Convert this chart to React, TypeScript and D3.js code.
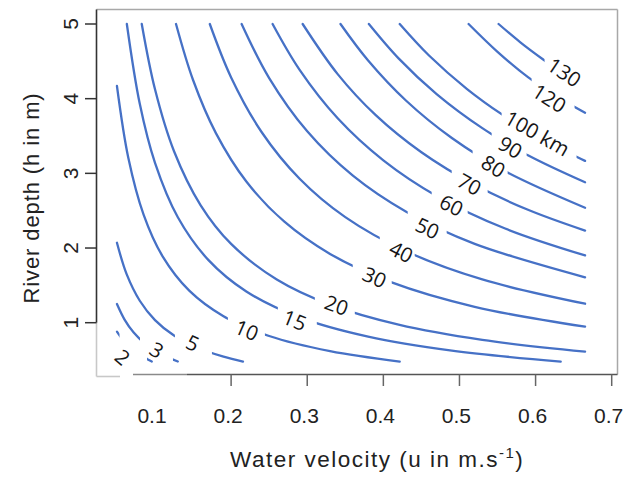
import React from "react";
import * as d3 from "d3";

// contour levels and their printed labels
const levels = [2, 3, 5, 10, 15, 20, 30, 40, 50, 60, 70, 80, 90, 100, 120, 130];
const levelLabels = ["2", "3", "5", "10", "15", "20", "30", "40", "50", "60", "70", "80", "90", "100 km", "120", "130"];

// contour lines: [u (m/s), h (m)]
const line2 = [[0.05, 0.88], [0.058, 0.767], [0.067, 0.672], [0.078, 0.583], [0.09, 0.511], [0.0958, 0.48]];
const line3 = [[0.05, 1.25], [0.06, 1.042], [0.072, 0.868], [0.087, 0.718], [0.104, 0.601], [0.118, 0.53], [0.13, 0.481]];
const line5 = [[0.05, 2.07], [0.063, 1.643], [0.08, 1.294], [0.1, 1.035], [0.125, 0.828], [0.155, 0.668], [0.19, 0.545], [0.2156, 0.48]];
const line10 = [[0.05, 4.17], [0.065, 3.205], [0.085, 2.447], [0.11, 1.888], [0.145, 1.429], [0.19, 1.087], [0.25, 0.822], [0.33, 0.619], [0.4215, 0.48]];
const line15 = [[0.063, 5.0], [0.08, 3.931], [0.1, 3.14], [0.13, 2.412], [0.17, 1.841], [0.22, 1.418], [0.29, 1.071], [0.38, 0.813], [0.49, 0.626], [0.633, 0.48]];
const line20 = [[0.0826, 5.0], [0.1, 4.125], [0.125, 3.296], [0.16, 2.572], [0.2, 2.055], [0.26, 1.579], [0.33, 1.242], [0.42, 0.974], [0.53, 0.77], [0.665, 0.612]];
const line30 = [[0.1276, 5.0], [0.15, 4.25], [0.18, 3.539], [0.22, 2.891], [0.27, 2.352], [0.33, 1.921], [0.41, 1.543], [0.52, 1.213], [0.665, 0.947]];
const line40 = [[0.172, 5.0], [0.2, 4.285], [0.24, 3.554], [0.29, 2.928], [0.35, 2.414], [0.43, 1.956], [0.53, 1.579], [0.665, 1.254]];
const line50 = [[0.2138, 5.0], [0.25, 4.276], [0.3, 3.563], [0.36, 2.969], [0.43, 2.486], [0.52, 2.056], [0.665, 1.608]];
const line60 = [[0.2545, 5.0], [0.29, 4.386], [0.34, 3.738], [0.4, 3.175], [0.47, 2.698], [0.56, 2.261], [0.665, 1.901]];
const line70 = [[0.294, 5.0], [0.34, 4.329], [0.39, 3.779], [0.45, 3.282], [0.52, 2.846], [0.59, 2.512], [0.665, 2.233]];
const line80 = [[0.3437, 5.0], [0.38, 4.511], [0.43, 3.972], [0.49, 3.473], [0.56, 3.029], [0.665, 2.54]];
const line90 = [[0.381, 5.0], [0.42, 4.54], [0.47, 4.062], [0.53, 3.606], [0.59, 3.242], [0.665, 2.88]];
const line100 = [[0.4215, 5.0], [0.46, 4.578], [0.51, 4.129], [0.56, 3.761], [0.61, 3.452], [0.665, 3.167]];
const line120 = [[0.512, 5.0], [0.55, 4.627], [0.59, 4.288], [0.63, 4.016], [0.665, 3.812]];
const line130 = [[0.5514, 5.0], [0.58, 4.755], [0.61, 4.525], [0.64, 4.3125], [0.665, 4.15]];
const contourLines = [line2, line3, line5, line10, line15, line20, line30, line40, line50, line60, line70, line80, line90, line100, line120, line130];

// u-range of each line hidden behind its label
const labelGaps = [[0.0534, 0.0895], [0.0803, 0.1236], [0.1262, 0.1748], [0.1958, 0.2444], [0.2614, 0.3126], [0.31, 0.3625], [0.3598, 0.411], [0.3953, 0.4412], [0.432, 0.4832], [0.4635, 0.5108], [0.4898, 0.537], [0.5173, 0.5633], [0.5423, 0.5882], [0.5554, 0.6538], [0.5948, 0.6512], [0.6118, 0.7]];
// label centres [u, h]
const labelAt = [[0.058, 0.545], [0.1026, 0.639], [0.1499, 0.732], [0.2207, 0.906], [0.2837, 1.04], [0.3388, 1.241], [0.3887, 1.615], [0.4238, 1.954], [0.4583, 2.271], [0.4898, 2.579], [0.5134, 2.859], [0.5449, 3.1], [0.5672, 3.355], [0.6026, 3.542], [0.6184, 4.01], [0.638, 4.358]];

const xTicks = [0.2, 0.3, 0.4, 0.5, 0.6, 0.7];
const xTickLabels = ["0.1", "0.2", "0.3", "0.4", "0.5", "0.6", "0.7"];
const xTickLabelValues = [0.1, 0.2, 0.3, 0.4, 0.5, 0.6, 0.7];
const yTicks = [1, 2, 3, 4, 5];

const W = 626, H = 478;
const x = d3.scaleLinear().domain([0.1, 0.7]).range([155, 611.7]);
const y = d3.scaleLinear().domain([1, 5]).range([322.7, 24]);
const plot = { left: 96.5, right: 617.5, top: 9.5, bottom: 374.5 };

const LINE = "#4671c6";

function hAt(pts: number[][], u: number) {
  for (let i = 0; i < pts.length - 1; i++) {
    const [u0, h0] = pts[i], [u1, h1] = pts[i + 1];
    if (u <= u1 || i === pts.length - 2) {
      const t = (Math.min(u, u1) - u0) / (u1 - u0);
      return h0 + t * (h1 - h0);
    }
  }
  return pts[pts.length - 1][1];
}

export default function App() {
  const lineGen = d3
    .line<number[]>()
    .x((d) => x(d[0]))
    .y((d) => y(d[1]))
    .curve(d3.curveCatmullRom.alpha(0.5));

  return (
    <svg width={W} height={H} style={{ position: "absolute", left: 0, top: 0, background: "#fff" }}>
      <defs>
        {contourLines.map((pts, i) => {
          const g0 = x(labelGaps[i][0]);
          const g1 = x(labelGaps[i][1]);
          return (
            <clipPath id={`gap${i}`} key={i}>
              <rect x={0} y={0} width={g0} height={H} />
              <rect x={g1} y={0} width={W - g1} height={H} />
            </clipPath>
          );
        })}
      </defs>
      <rect x={0} y={0} width={W} height={H} fill="#fff" />

      {/* contour lines */}
      {contourLines.map((pts, i) => (
        <path key={`l${i}`} d={lineGen(pts) || ""} fill="none" stroke={LINE} strokeWidth={2.3} strokeLinecap="round" clipPath={`url(#gap${i})`} />
      ))}

      {/* contour labels */}
      {contourLines.map((pts, i) => {
        const [ga, gb] = labelGaps[i];
        const uEnd = pts[pts.length - 1][0];
        const gbc = Math.min(gb, uEnd);
        const xa = x(ga), ya = y(hAt(pts, ga));
        const xb = x(gbc), yb = y(hAt(pts, gbc));
        const ang = (Math.atan2(yb - ya, xb - xa) * 180) / Math.PI;
        const cx = x(labelAt[i][0]);
        const cy = y(labelAt[i][1]);
        return (
          <text key={`t${i}`} x={0} y={0} transform={`translate(${cx},${cy}) rotate(${ang})`} textAnchor="middle" dominantBaseline="central" fontFamily="'Open Sans', sans-serif" fontSize={20.5} fill="#161616">
            {levelLabels[i]}
          </text>
        );
      })}

      {/* box */}
      <line x1={plot.left} x2={plot.right} y1={plot.top} y2={plot.top} stroke="#a8a8a8" strokeWidth={1.5} />
      <line x1={plot.right} x2={plot.right} y1={plot.top} y2={plot.bottom} stroke="#a8a8a8" strokeWidth={1.5} />
      <line x1={plot.left} x2={plot.left} y1={plot.top} y2={y(1)} stroke="#333" strokeWidth={1.6} />
      <line x1={plot.left} x2={plot.left} y1={y(1)} y2={376.5} stroke="#c8c8c8" strokeWidth={1.6} />
      <line x1={plot.left} x2={120} y1={376.5} y2={376.5} stroke="#c8c8c8" strokeWidth={1.6} />
      <line x1={133} x2={187} y1={plot.bottom} y2={plot.bottom} stroke="#8a8a8a" strokeWidth={1.6} />
      <line x1={187} x2={plot.right} y1={plot.bottom} y2={plot.bottom} stroke="#555" strokeWidth={1.6} />

      {/* x axis */}
      {xTicks.map((t) => (
        <line key={`xt${t}`} x1={x(t)} x2={x(t)} y1={plot.bottom} y2={386} stroke="#666" strokeWidth={1.5} />
      ))}
      {xTickLabelValues.map((t, i) => (
        <text key={`xl${t}`} x={x(t) - 3} y={423} textAnchor="middle" fontFamily="'Liberation Sans', Arial, sans-serif" fontSize={21} fill="#222">
          {xTickLabels[i]}
        </text>
      ))}
      <text x={230} y={467} fontFamily="'Liberation Sans', Arial, sans-serif" fontSize={22.5} fill="#222" letterSpacing={1.5}>
        Water velocity (u in m.s
        <tspan dy={-9} fontSize={15}>-1</tspan>
        <tspan dy={9}>)</tspan>
      </text>

      {/* y axis */}
      {yTicks.map((t) => (
        <line key={`yt${t}`} x1={85} x2={plot.left} y1={y(t)} y2={y(t)} stroke="#333" strokeWidth={1.5} />
      ))}
      {yTicks.map((t) => (
        <text key={`yl${t}`} transform={`translate(78,${y(t)}) rotate(-90)`} textAnchor="middle" fontFamily="'Liberation Sans', Arial, sans-serif" fontSize={21} fill="#222">
          {String(t)}
        </text>
      ))}
      <text transform={`translate(39,198) rotate(-90)`} textAnchor="middle" fontFamily="'Liberation Sans', Arial, sans-serif" fontSize={22} fill="#222" letterSpacing={0.9}>
        River depth (h in m)
      </text>
    </svg>
  );
}
